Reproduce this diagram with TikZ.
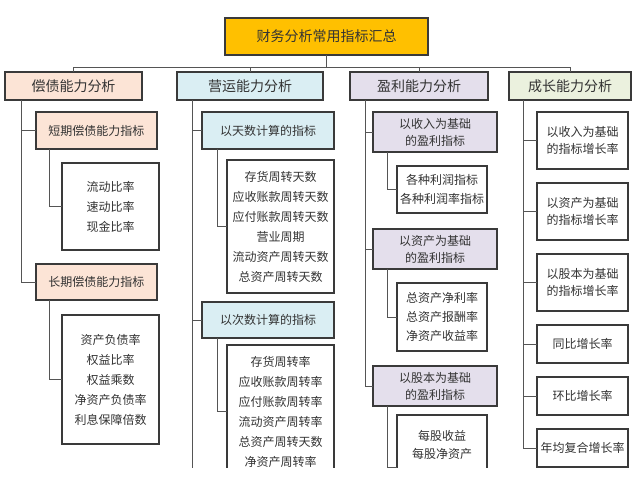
\documentclass[tikz,border=0pt]{standalone}
\usepackage{fontspec}
\setmainfont{Noto Sans CJK SC}
\usetikzlibrary{positioning}

\definecolor{titlegold}{HTML}{FFC000}
\definecolor{peach}{HTML}{FCE4D6}
\definecolor{iceblue}{HTML}{DAEEF3}
\definecolor{lavender}{HTML}{E4DFEC}
\definecolor{sage}{HTML}{EBF1DE}
\definecolor{boxline}{HTML}{3A3A3A}
\definecolor{linkgray}{HTML}{555555}
\definecolor{inkgray}{HTML}{333333}

\begin{document}
\begin{tikzpicture}[
    x=1pt, y=-1pt,
    box/.style={rectangle, draw=boxline, line width=1.1pt, fill=white, inner sep=2pt, outer sep=0pt, align=center, text=inkgray},
    headbox/.style={box, fill=titlegold, minimum width=203pt, minimum height=37pt, font=\fontsize{14pt}{16pt}\selectfont},
    catbox/.style={box, minimum height=28pt, font=\fontsize{14pt}{16pt}\selectfont},
    subbox/.style={box, font=\fontsize{12pt}{17pt}\selectfont},
    listbox/.style={box, font=\fontsize{12pt}{20pt}\selectfont},
    growbox/.style={box, minimum width=91pt, font=\fontsize{12pt}{16.5pt}\selectfont},
    link/.style={draw=linkgray, line width=0.8pt},
]
    \useasboundingbox (0,0) rectangle (641,494);
    \clip (0,0) rectangle (641,468);

%% NODES
    % summary
    \node[headbox] (summary) at (326.5,36.5) {财务分析常用指标汇总};

    % categories
    \node[catbox, fill=peach, minimum width=137pt, below=17pt of summary, xshift=-253pt] (chang_zhai) {偿债能力分析};
    \node[catbox, fill=iceblue, minimum width=146pt, below=17pt of summary, xshift=-76.5pt] (ying_yun) {营运能力分析};
    \node[catbox, fill=lavender, minimum width=138pt, below=17pt of summary, xshift=92.5pt] (ying_li) {盈利能力分析};
    \node[catbox, fill=sage, minimum width=122pt, below=17pt of summary, xshift=243.5pt] (cheng_zhang) {成长能力分析};

    % solvency
    \node[subbox, fill=peach, minimum width=121pt, minimum height=37pt, below=12pt of chang_zhai, xshift=23pt] (duan_qi) {短期偿债能力指标};
    \node[listbox, minimum width=97pt, minimum height=87pt, below=14pt of duan_qi, xshift=14pt] (duan_qi_list) {流动比率\\速动比率\\现金比率};
    \node[subbox, fill=peach, minimum width=121pt, minimum height=36pt, below=14pt of duan_qi_list, xshift=-14pt] (chang_qi) {长期偿债能力指标};
    \node[listbox, minimum width=97pt, minimum height=129pt, below=15pt of chang_qi, xshift=14pt] (chang_qi_list) {资产负债率\\权益比率\\权益乘数\\净资产负债率\\利息保障倍数};

    % operation
    \node[subbox, fill=iceblue, minimum width=132pt, minimum height=37pt, below=12pt of ying_yun, xshift=18pt] (tian_shu) {以天数计算的指标};
    \node[listbox, minimum width=107pt, minimum height=133pt, below=11pt of tian_shu, xshift=12.5pt] (tian_shu_list) {存货周转天数\\应收账款周转天数\\应付账款周转天数\\营业周期\\流动资产周转天数\\总资产周转天数};
    \node[subbox, fill=iceblue, minimum width=132pt, minimum height=36pt, below=9pt of tian_shu_list, xshift=-12.5pt] (ci_shu) {以次数计算的指标};
    \node[listbox, minimum width=107pt, minimum height=133pt, below=7pt of ci_shu, xshift=12.5pt] (ci_shu_list) {存货周转率\\应收账款周转率\\应付账款周转率\\流动资产周转率\\总资产周转天数\\净资产周转率};
    \coordinate (ying_yun_end) at ([xshift=15pt]ying_yun.south west |- ci_shu_list.south);

    % profit
    \node[subbox, fill=lavender, minimum width=124pt, minimum height=40pt, below=12pt of ying_li, xshift=16pt] (shou_ru) {以收入为基础\\的盈利指标};
    \node[listbox, font=\fontsize{12pt}{19pt}\selectfont, minimum width=90pt, minimum height=47pt, below=14pt of shou_ru, xshift=7pt] (shou_ru_list) {各种利润指标\\各种利润率指标};
    \node[subbox, fill=lavender, minimum width=124pt, minimum height=40pt, below=16pt of shou_ru_list, xshift=-7pt] (zi_chan) {以资产为基础\\的盈利指标};
    \node[listbox, font=\fontsize{12pt}{19pt}\selectfont, minimum width=90pt, minimum height=68pt, below=14pt of zi_chan, xshift=7pt] (zi_chan_list) {总资产净利率\\总资产报酬率\\净资产收益率};
    \node[subbox, fill=lavender, minimum width=124pt, minimum height=40pt, below=15pt of zi_chan_list, xshift=-7pt] (gu_ben) {以股本为基础\\的盈利指标};
    \node[listbox, font=\fontsize{12pt}{18pt}\selectfont, minimum width=90pt, below=9pt of gu_ben, xshift=7pt] (gu_ben_list) {\parbox[c][100pt][t]{86pt}{\centering\vspace*{13pt}每股收益\\每股净资产}};

    % growth
    \node[growbox, minimum height=57pt, below=12pt of cheng_zhang, xshift=12.5pt] (zeng_shou_ru) {以收入为基础\\的指标增长率};
    \node[growbox, minimum height=57pt, below=14pt of zeng_shou_ru] (zeng_zi_chan) {以资产为基础\\的指标增长率};
    \node[growbox, minimum height=57pt, below=14pt of zeng_zi_chan] (zeng_gu_ben) {以股本为基础\\的指标增长率};
    \node[growbox, minimum height=38pt, below=14pt of zeng_gu_ben] (tong_bi) {同比增长率};
    \node[growbox, minimum height=38pt, below=14pt of tong_bi] (huan_bi) {环比增长率};
    \node[growbox, minimum height=38pt, below=14pt of huan_bi] (nian_jun) {年均复合增长率};

%% CONNECTIONS
    % summary -> categories
    \draw[link] (summary.south) -- ++(0,-12pt) -| (chang_zhai.north);
    \draw[link] (summary.south) -- ++(0,-12pt) -| (ying_yun.north);
    \draw[link] (summary.south) -- ++(0,-12pt) -| (ying_li.north);
    \draw[link] (summary.south) -- ++(0,-12pt) -| (cheng_zhang.north);

    % solvency
    \draw[link] ([xshift=16pt]chang_zhai.south west) |- (duan_qi.west);
    \draw[link] ([xshift=16pt]chang_zhai.south west) |- (chang_qi.west);
    \draw[link] ([xshift=13pt]duan_qi.south west) |- (duan_qi_list.west);
    \draw[link] ([xshift=13pt]chang_qi.south west) |- (chang_qi_list.west);

    % operation
    \draw[link] ([xshift=15pt]ying_yun.south west) |- (tian_shu.west);
    \draw[link] ([xshift=15pt]ying_yun.south west) |- (ci_shu.west);
    \draw[link] ([xshift=15pt]ying_yun.south west) -- (ying_yun_end);
    \draw[link] ([xshift=15pt]tian_shu.south west) |- (tian_shu_list.west);
    \draw[link] ([xshift=15pt]ci_shu.south west) |- (ci_shu_list.west);

    % profit
    \draw[link] ([xshift=15pt]ying_li.south west) |- (shou_ru.west);
    \draw[link] ([xshift=15pt]ying_li.south west) |- (zi_chan.west);
    \draw[link] ([xshift=15pt]ying_li.south west) |- (gu_ben.west);
    \draw[link] ([xshift=14pt]shou_ru.south west) |- (shou_ru_list.west);
    \draw[link] ([xshift=14pt]zi_chan.south west) |- (zi_chan_list.west);
    \draw[link] ([xshift=14pt]gu_ben.south west) |- (gu_ben_list.west);

    % growth
    \foreach \g in {zeng_shou_ru, zeng_zi_chan, zeng_gu_ben, tong_bi, huan_bi, nian_jun}
        \draw[link] ([xshift=14pt]cheng_zhang.south west) |- (\g.west);

\end{tikzpicture}
\end{document}
